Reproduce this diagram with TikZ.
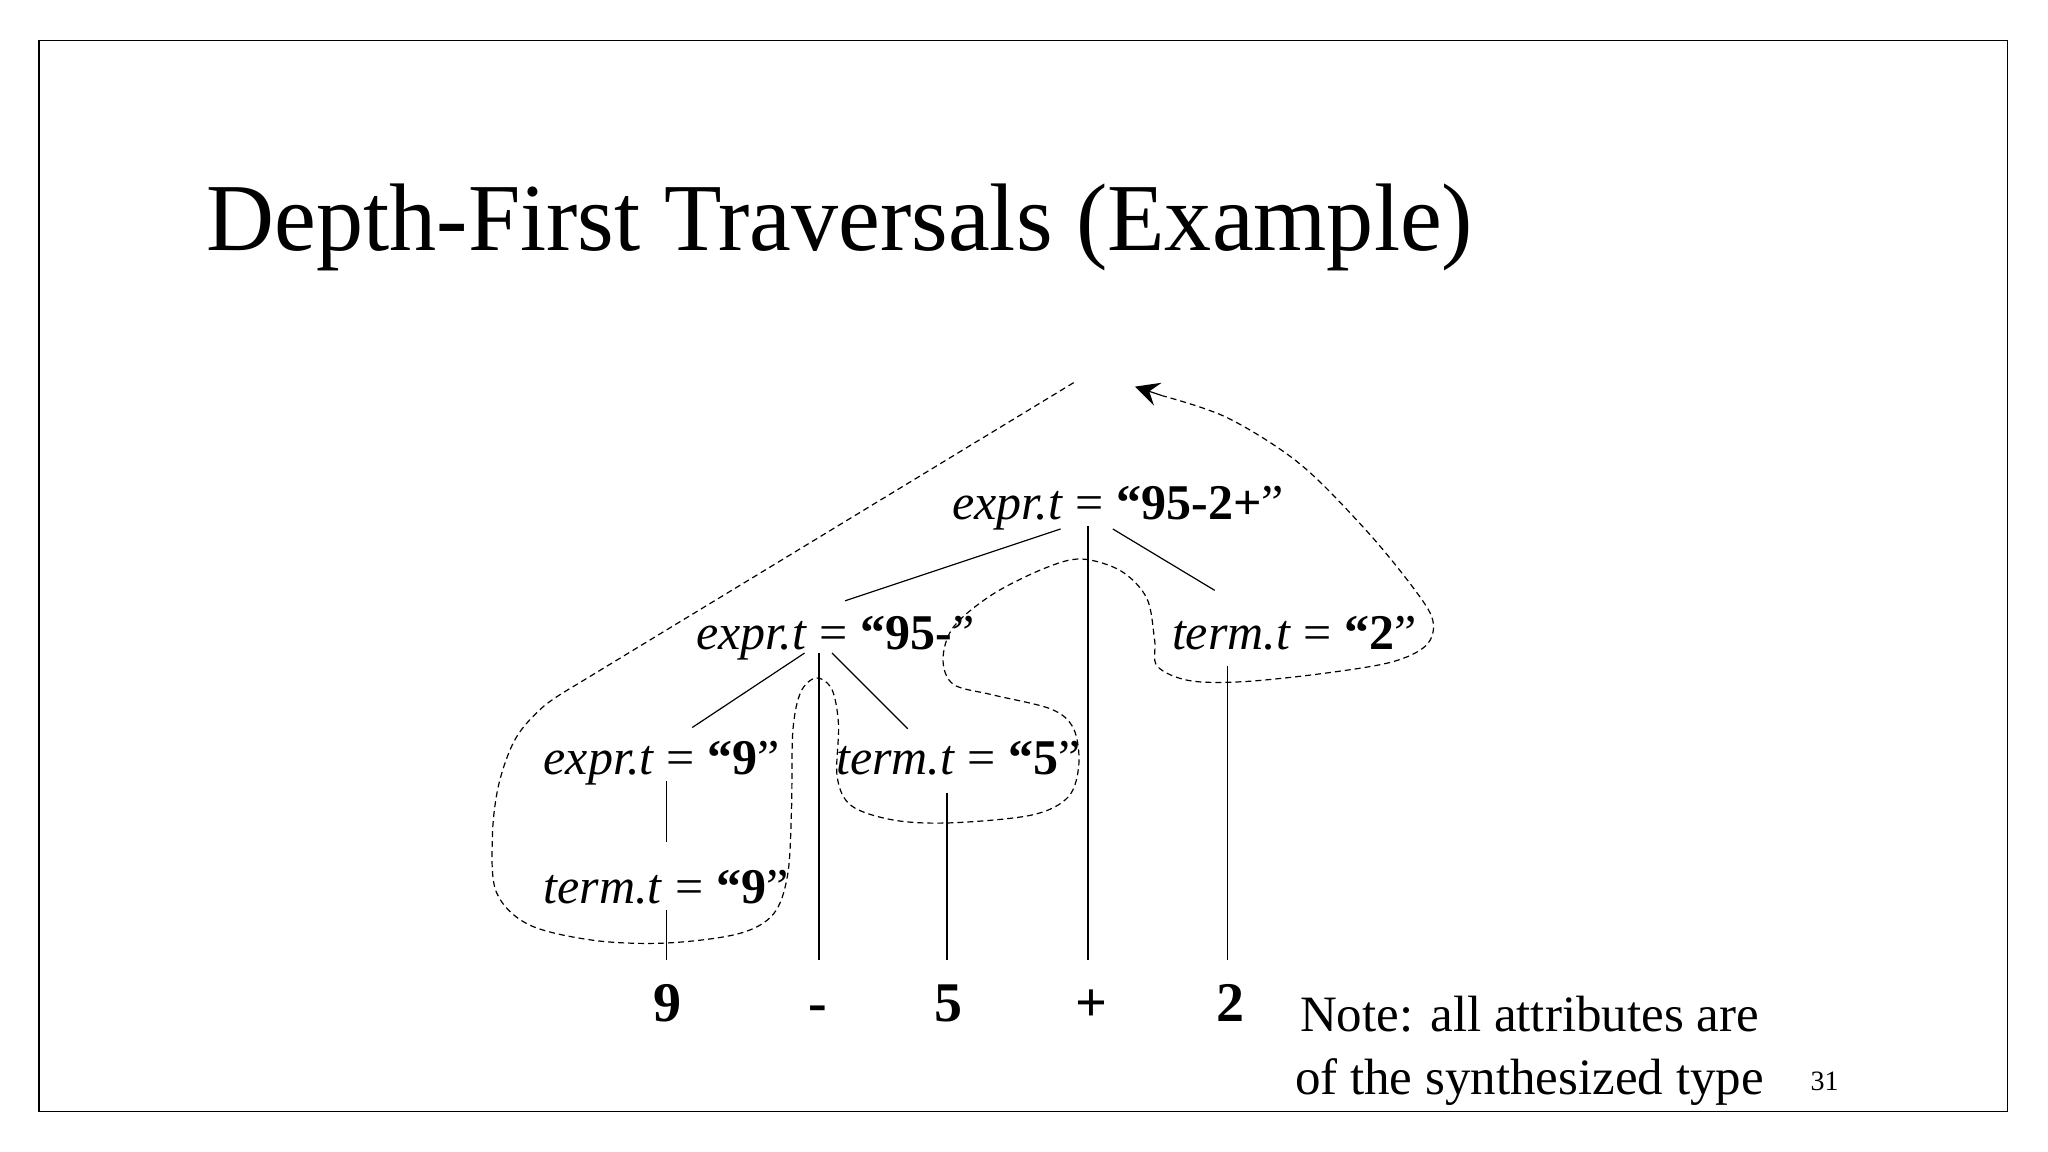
\documentclass[tikz,border=0pt]{standalone}
\usepackage{fontspec}
\setmainfont{Liberation Serif}
\newfontfamily\titlefont{Liberation Serif}[FakeStretch=0.98]
\usetikzlibrary{arrows.meta}

% attribute label: name.t = "value"
\newcommand{\synattr}[2]{\textit{#1.t} = \textbf{“#2}”}

\begin{document}
\begin{tikzpicture}
        [%%%%%%%%%%%%%%%%%%%%%%%%%%%%%%
        x=0.653pt,y=-0.653pt,
        lbl/.style={anchor=base west,inner sep=0pt,font=\fontsize{25}{25}\selectfont},
        leaf/.style={anchor=north,inner sep=0pt,text height=30.7pt,text depth=0pt,
                     font=\bfseries\fontsize{28}{28}\selectfont},
        edge/.style={line width=0.6pt},
        trav/.style={dash pattern=on 3pt off 2pt,line width=0.6pt},
        tip/.style={-{Stealth[length=12pt,width=12pt,inset=4.5pt]},line width=0.6pt},
        ]%%%%%%%%%%%%%%%%%%%%%%%%%%%%%%
        \useasboundingbox (0,0) rectangle (1568,882);
        \draw[line width=0.8pt] (30,31) rectangle (1537,851);
        % Title
        \node[anchor=base west,inner sep=0pt,font=\titlefont\fontsize{48}{48}\selectfont]
          (title) at (158,192) {Depth-First Traversals (Example)};
        % Attribute labels
        \node[lbl] (root)   at (729,398) {\synattr{expr}{95-2+}};
        \node[lbl] (expr95) at (533,497) {\synattr{expr}{95-}};
        \node[lbl] (term2)  at (897,497) {\synattr{term}{2}};
        \node[lbl] (expr9)  at (416,593) {\synattr{expr}{9}};
        \node[lbl] (term5)  at (640,593) {\synattr{term}{5}};
        \node[lbl] (term9)  at (416,692) {\synattr{term}{9}};
        % Leaves
        \node[leaf] (nine)  at (511,735) {9};
        \node[leaf] (minus) at (626,735) {-};
        \node[leaf] (five)  at (726,735) {5};
        \node[leaf] (plus)  at (836,735) {+};
        \node[leaf] (two)   at (942,735) {2};
        % Line ends under the labels
        \coordinate (root-l)   at (812,405);
        \coordinate (root-m)   at (833,403);
        \coordinate (root-r)   at (852,405);
        \coordinate (expr95-t) at (647,460);
        \coordinate (term2-t)  at (930,452);
        \coordinate (expr95-l) at (616,500);
        \coordinate (expr95-m) at (627,500);
        \coordinate (expr95-r) at (637,500);
        \coordinate (expr9-t)  at (530,557);
        \coordinate (term5-t)  at (695,558);
        \coordinate (term2-m)  at (940,510);
        \coordinate (expr9-m)  at (510,598);
        \coordinate (term9-t)  at (510,645);
        \coordinate (term5-m)  at (725,607);
        \coordinate (term9-m)  at (510,697);
        % Traversal ends
        \coordinate (trav-start) at (822,293);
        \coordinate (trav-last)  at (890,303);
        \coordinate (trav-end)   at (869,296);
        % Tree edges
        \draw[edge] (root-l) -- (expr95-t);
        \draw[edge] (root-r) -- (term2-t);
        \draw[edge] (root-m) -- (root-m |- plus.north);
        \draw[edge] (expr95-l) -- (expr9-t);
        \draw[edge] (expr95-r) -- (term5-t);
        \draw[edge] (expr95-m) -- (expr95-m |- minus.north);
        \draw[edge] (term2-m) -- (term2-m |- two.north);
        \draw[edge] (expr9-m) -- (term9-t);
        \draw[edge] (term5-m) -- (term5-m |- five.north);
        \draw[edge] (term9-m) -- (term9-m |- nine.north);
        % Traversal
        \draw[trav] (trav-start) -- (440,525)
          -- plot[smooth,tension=0.55] coordinates {(440,525) (416,541) (395,565)
          (382,600) (377,640) (380,683) (405,708) (455,720) (510,722) (565,715) (592,700)
          (603,670) (606,620) (607,560) (613,530) (625,519) (637,528) (642,555)
          (641,595) (652,617) (685,628) (728,630) (790,624) (818,610) (826,585)
          (822,558) (805,543) (760,532) (730,524) (722,505) (730,480) (760,455)
          (800,435) (828,428) (858,437) (878,458) (884,490) (886,510) (910,521)
          (950,522) (1010,516) (1065,507) (1092,494) (1097,475) (1082,450)
          (1045,405) (995,355) (940,320) (890,303)};
        \draw[tip] (trav-last) -- (trav-end);
        % Note
        \node[anchor=base,inner sep=0pt,align=center,font=\fontsize{25.5}{31.3}\selectfont]
          (note) at (1171,838) {Note: all attributes are\\of the synthesized type};
        \node[anchor=base west,inner sep=0pt,font=\fontsize{14}{14}\selectfont]
          (pagenum) at (1386,835) {31};
      \end{tikzpicture}
\end{document}
